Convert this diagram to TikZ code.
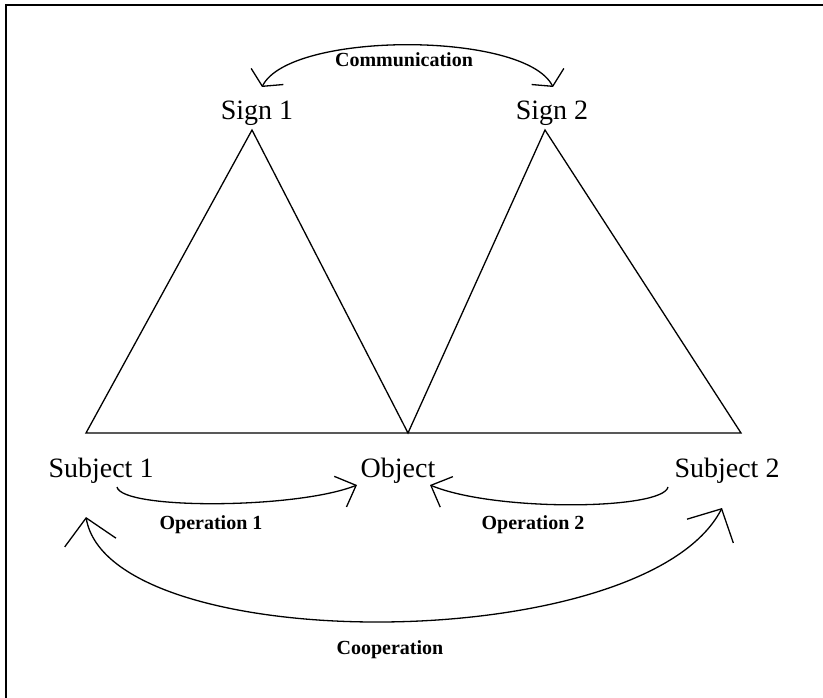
\documentclass[tikz,border=0pt]{standalone}
\usepackage{fontspec}
\setmainfont{Liberation Serif}
\usetikzlibrary{arrows.meta, calc}

\tikzset{
  bigtext/.style={font=\fontsize{28}{30}\selectfont, inner sep=0pt, anchor=base},
  labeltext/.style={font=\fontsize{20}{22}\selectfont\bfseries, inner sep=0pt, anchor=base},
  edge/.style={line width=1.3pt},
  arc/.style={line width=1.3pt},
  commtip/.style={arrows={Straight Barb[length=11pt,width=36pt]-Straight Barb[length=11pt,width=36pt]}},
  optip/.style={arrows={-Straight Barb[length=17pt,width=33pt]}},
  cooptip/.style={arrows={Straight Barb[length=25pt,width=52pt]-Straight Barb[length=25pt,width=52pt]}},
}

\begin{document}
\begin{tikzpicture}[x=1pt, y=-1pt]
\useasboundingbox (0,0) rectangle (823,698);

% frame
\draw[line width=1.2pt] (6,698) -- (6,5) -- (823,5);

% texts
\node[bigtext] (sign1)  at (257,120) {Sign 1};
\node[bigtext] (sign2)  at (552,120) {Sign 2};
\node[bigtext] (subj1)  at (101,477) {Subject 1};
\node[bigtext] (object) at (398,477) {Object};
\node[bigtext] (subj2)  at (727,477) {Subject 2};

\node[labeltext] (comm) at (404,67)  {Communication};
\node[labeltext] (op1)  at (211,529) {Operation 1};
\node[labeltext] (op2)  at (533,529) {Operation 2};
\node[labeltext] (coop) at (390,654) {Cooperation};

% triangles
\coordinate (apex1) at (252,130);
\coordinate (apex2) at (545,130);
\coordinate (left)  at (86,433);
\coordinate (mid)   at (408,433);
\coordinate (right) at (741,433);
\draw[edge] (left) -- (apex1) -- (mid) -- (apex2) -- (right) -- cycle;

% communication
\draw[arc, commtip] ($(sign1.base)+(5,-33)$)
  .. controls +(28,-56) and +(-28,-56) .. ($(sign2.base)+(1,-33)$);

% operations
\draw[arc, optip] ($(subj1.base)+(16,10)$)
  .. controls +(5,23) and +(-60,24) .. ($(object.base)+(-41,8)$);
\draw[arc, optip] ($(subj2.base)+(-59,10)$)
  .. controls +(-5,23) and +(65,27) .. ($(object.base)+(32,8)$);

% cooperation
\draw[arc, cooptip] ($(subj1.base)+(-15,40)$)
  .. controls +(24,141) and +(-77,150) .. ($(subj2.base)+(-5,31)$);
\end{tikzpicture}
\end{document}
